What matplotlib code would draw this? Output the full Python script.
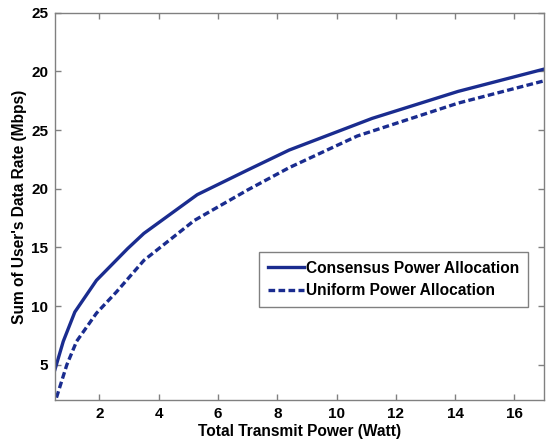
import matplotlib
matplotlib.use("Agg")
import matplotlib.pyplot as plt

# Data
consensus_x = [0.5, 0.78, 1.17, 1.9, 2.95, 3.5, 5.3, 7.0, 8.4, 11.2, 14.1, 17.0]
consensus_y = [4.6, 7.0, 9.5, 12.2, 14.9, 16.2, 19.5, 21.6, 23.3, 26.0, 28.3, 30.2]
uniform_x = [0.55, 0.9, 1.23, 1.9, 2.57, 3.5, 5.2, 7.0, 8.4, 10.7, 14.1, 17.0]
uniform_y = [2.2, 5.0, 7.0, 9.4, 11.2, 13.9, 17.3, 19.9, 21.8, 24.5, 27.3, 29.2]
x_ticks = [2, 4, 6, 8, 10, 12, 14, 16]
y_ticks = [5, 10, 15, 20, 25, 30, 35]
y_tick_labels = ['5', '10', '15', '20', '25', '20', '25']

plt.rcParams['font.family'] = ['Liberation Sans', 'DejaVu Sans']
plt.rcParams['font.weight'] = 'bold'

fig = plt.figure(figsize=(5.47, 4.4), dpi=100)
ax = fig.add_axes([0.1005, 0.0909, 0.894, 0.880])

color = '#1a2c8f'
ax.plot(consensus_x, consensus_y, color=color, lw=2.4, ls='-', label='Consensus Power Allocation')
ax.plot(uniform_x, uniform_y, color=color, lw=2.4, ls=(0, (2.0, 1.0)), label='Uniform Power Allocation')

ax.set_xlim(0.5, 17)
ax.set_ylim(2, 35)
ax.set_xticks(x_ticks)
ax.set_xticklabels([str(v) for v in x_ticks])
ax.set_yticks(y_ticks)
ax.set_yticklabels(y_tick_labels)

for s in ax.spines.values():
    s.set_color('#808080')
    s.set_linewidth(1.0)
ax.tick_params(direction='in', length=4, width=1, color='#808080',
               top=True, right=True, labelsize=11, pad=5)
for lbl in ax.get_xticklabels() + ax.get_yticklabels():
    lbl.set_fontweight('bold')

ax.set_xlabel('Total Transmit Power (Watt)', fontsize=11.2, fontweight='bold', labelpad=2)
ax.set_ylabel("Sum of User's Data Rate (Mbps)", fontsize=11.2, fontweight='bold', labelpad=3)

leg = ax.legend(loc='upper right', bbox_to_anchor=(0.967, 0.382), borderaxespad=0,
                fancybox=False, edgecolor='#808080', framealpha=1,
                prop={'size': 11.2, 'weight': 'bold'}, handlelength=2.3,
                handletextpad=0.15, borderpad=0.55, labelspacing=0.5)
leg.get_frame().set_linewidth(1.0)

fig.savefig('out.png', dpi=100)
